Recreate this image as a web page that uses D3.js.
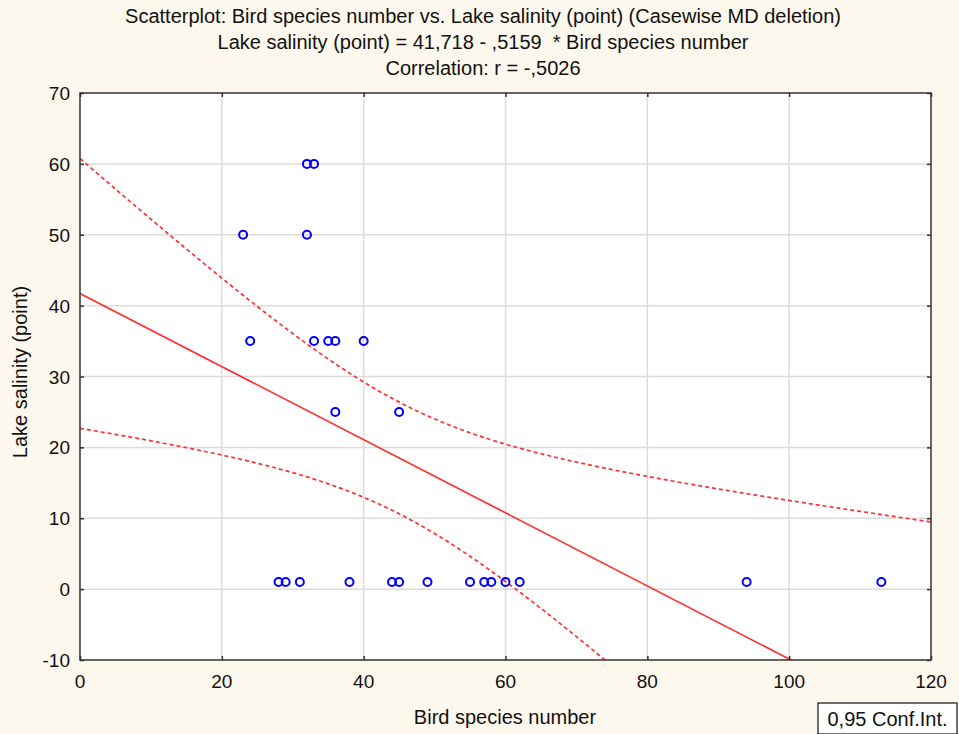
<!DOCTYPE html>
<html>
<head>
<meta charset="utf-8">
<script src="https://cdnjs.cloudflare.com/ajax/libs/d3/7.8.5/d3.min.js"></script>
<style>
  html, body { margin: 0; padding: 0; background: #fdf8ed; }
  svg { display: block; font-family: "Liberation Sans", Arial, sans-serif; }
  text { white-space: pre; }
</style>
</head>
<body>
<svg id="chart" width="959" height="734"></svg>
<script>
// Bird species number (x) and lake salinity (y), one entry per lake
var birdSpecies = [32, 33, 23, 32, 24, 33, 35, 36, 40, 36, 45,
                   28, 29, 31, 38, 44, 45, 49, 55, 57, 58, 60, 62, 94, 113];
var salinity    = [60, 60, 50, 50, 35, 35, 35, 35, 35, 25, 25,
                   1, 1, 1, 1, 1, 1, 1, 1, 1, 1, 1, 1, 1, 1];
var xTicks = [0, 20, 40, 60, 80, 100, 120];
var yTicks = [-10, 0, 10, 20, 30, 40, 50, 60, 70];
var titleLines = [
  "Scatterplot: Bird species number vs. Lake salinity (point) (Casewise MD deletion)",
  "Lake salinity (point) = 41,718 - ,5159  * Bird species number",
  "Correlation: r = -,5026"
];
var tCrit = 2.0687; // t(0.975, 23)

window.onload = function() {

  var margin = {top: 93, right: 28, bottom: 74, left: 80},
      width = 959,
      height = 734,
      innerW = width - margin.left - margin.right,
      innerH = height - margin.top - margin.bottom,
      fontSize = "20px",
      svg = d3.select("#chart");

  var x = d3.scaleLinear().domain([0, 120]).range([0, innerW]);
  var y = d3.scaleLinear().domain([-10, 70]).range([innerH, 0]);

  // Titles
  svg.selectAll("text.title")
    .data(titleLines)
    .enter().append("text")
      .attr("class", "title")
      .attr("x", 483)
      .attr("y", function(d, i) { return 23 + i * 26; })
      .attr("text-anchor", "middle")
      .attr("font-size", fontSize)
      .attr("fill", "#111")
      .text(function(d) { return d; });

  var g = svg.append("g").attr("transform", "translate(" + margin.left + "," + margin.top + ")");

  g.append("rect").attr("width", innerW).attr("height", innerH).attr("fill", "#fff");

  g.append("clipPath").attr("id", "clip")
    .append("rect").attr("width", innerW).attr("height", innerH);

  // Gridlines
  g.selectAll("line.gx").data(xTicks.slice(1, -1)).enter().append("line")
    .attr("x1", x).attr("x2", x).attr("y1", 0).attr("y2", innerH)
    .attr("stroke", "#dcdcdc").attr("stroke-width", 1.5);
  g.selectAll("line.gy").data(yTicks.slice(1, -1)).enter().append("line")
    .attr("y1", y).attr("y2", y).attr("x1", 0).attr("x2", innerW)
    .attr("stroke", "#dcdcdc").attr("stroke-width", 1.5);

  // Regression and confidence band, computed from the data
  var n = birdSpecies.length,
      mx = d3.mean(birdSpecies),
      my = d3.mean(salinity),
      sxx = d3.sum(birdSpecies, function(v) { return (v - mx) * (v - mx); }),
      sxy = d3.sum(birdSpecies, function(v, i) { return (v - mx) * (salinity[i] - my); }),
      slope = sxy / sxx,
      icpt = my - slope * mx,
      sse = d3.sum(birdSpecies, function(v, i) { var r = salinity[i] - (icpt + slope * v); return r * r; }),
      s = Math.sqrt(sse / (n - 2));

  var xs = d3.range(0, 120.5, 0.5);
  function half(v) { return tCrit * s * Math.sqrt(1 / n + (v - mx) * (v - mx) / sxx); }

  var line = d3.line().x(function(d) { return x(d[0]); }).y(function(d) { return y(d[1]); });
  var lines = g.append("g").attr("clip-path", "url(#clip)");

  lines.append("path")
    .attr("d", line([[0, icpt], [120, icpt + slope * 120]]))
    .attr("fill", "none").attr("stroke", "#ff3030").attr("stroke-width", 1.7);

  [1, -1].forEach(function(sign) {
    lines.append("path")
      .attr("d", line(xs.map(function(v) { return [v, icpt + slope * v + sign * half(v)]; })))
      .attr("fill", "none").attr("stroke", "#ff3030").attr("stroke-width", 1.7)
      .attr("stroke-dasharray", "4,3");
  });

  // Points
  g.selectAll("circle.pt").data(birdSpecies).enter().append("circle")
    .attr("cx", function(d) { return x(d); })
    .attr("cy", function(d, i) { return y(salinity[i]); })
    .attr("r", 4)
    .attr("fill", "none").attr("stroke", "#0000ff").attr("stroke-width", 2);

  // Frame with inward ticks on all four sides
  g.append("rect").attr("width", innerW).attr("height", innerH)
    .attr("fill", "none").attr("stroke", "#333").attr("stroke-width", 1.5);

  g.append("g").call(d3.axisLeft(y).tickValues(yTicks).tickSizeInner(-4).tickSizeOuter(0).tickFormat(""))
    .call(function(a) { a.select(".domain").remove(); });
  g.append("g").attr("transform", "translate(" + innerW + ",0)")
    .call(d3.axisRight(y).tickValues(yTicks).tickSizeInner(-4).tickSizeOuter(0).tickFormat(""))
    .call(function(a) { a.select(".domain").remove(); });
  g.append("g").attr("transform", "translate(0," + innerH + ")")
    .call(d3.axisBottom(x).tickValues(xTicks).tickSizeInner(-4).tickSizeOuter(0).tickFormat(""))
    .call(function(a) { a.select(".domain").remove(); });
  g.append("g")
    .call(d3.axisTop(x).tickValues(xTicks).tickSizeInner(-4).tickSizeOuter(0).tickFormat(""))
    .call(function(a) { a.select(".domain").remove(); });
  g.selectAll(".tick line").attr("stroke", "#333").attr("stroke-width", 1.5);

  // Tick labels
  g.selectAll("text.yl").data(yTicks).enter().append("text")
    .attr("x", -10).attr("y", function(d) { return y(d) + 7; })
    .attr("text-anchor", "end").attr("font-size", "19px").attr("fill", "#111")
    .text(function(d) { return d; });
  g.selectAll("text.xl").data(xTicks).enter().append("text")
    .attr("x", function(d) { return x(d); }).attr("y", innerH + 28)
    .attr("text-anchor", "middle").attr("font-size", "19px").attr("fill", "#111")
    .text(function(d) { return d; });

  // Axis titles
  svg.append("text")
    .attr("x", 505).attr("y", 724)
    .attr("text-anchor", "middle").attr("font-size", fontSize).attr("fill", "#111")
    .text("Bird species number");
  svg.append("text")
    .attr("transform", "translate(27,372) rotate(-90)")
    .attr("text-anchor", "middle").attr("font-size", fontSize).attr("fill", "#111")
    .text("Lake salinity (point)");

  // Legend box
  var leg = svg.append("g").attr("transform", "translate(818,703)");
  leg.append("rect").attr("width", 139).attr("height", 31)
    .attr("fill", "#fff").attr("stroke", "#111").attr("stroke-width", 1.2);
  leg.append("text").attr("x", 69.5).attr("y", 23)
    .attr("text-anchor", "middle").attr("font-size", fontSize).attr("fill", "#111")
    .text("0,95 Conf.Int.");
}
</script>
</body>
</html>
